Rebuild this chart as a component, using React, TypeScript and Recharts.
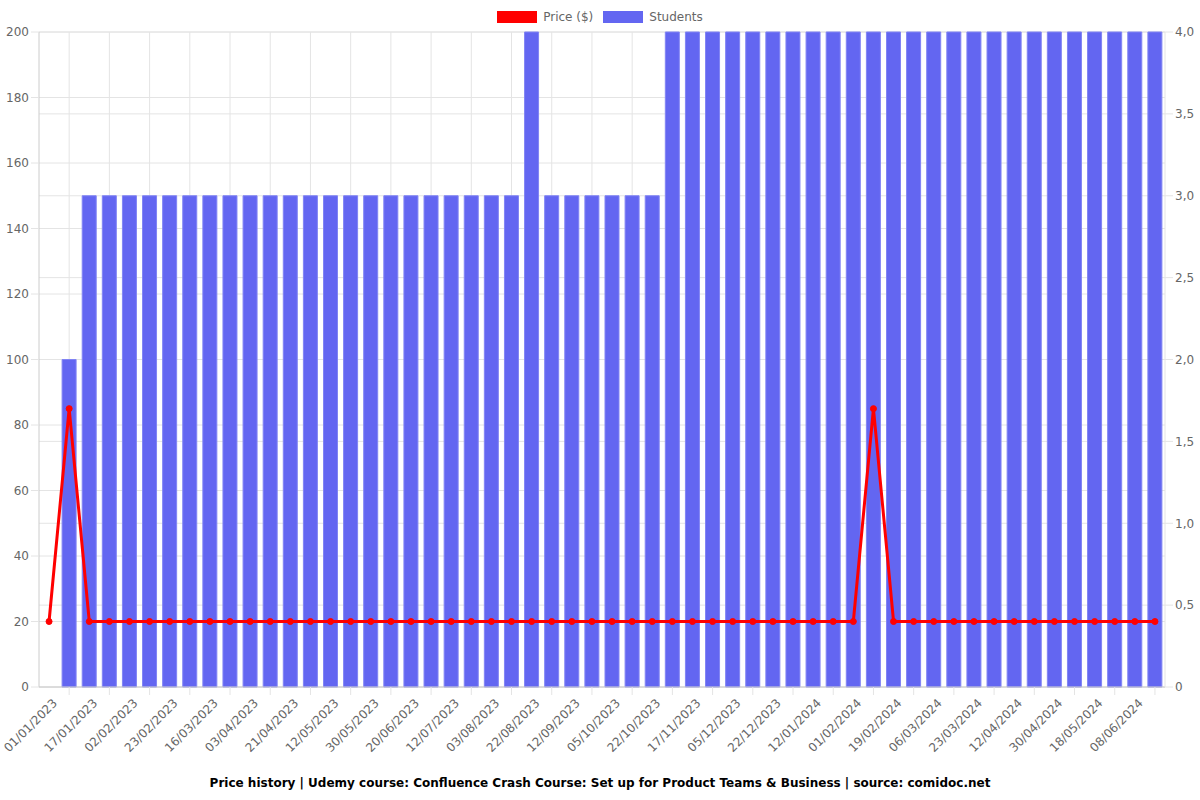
import React from 'react'
import {
  ComposedChart, Bar, Line, XAxis, YAxis, CartesianGrid,
} from 'recharts'

const dates = [
  '01/01/2023', '09/01/2023', '17/01/2023', '25/01/2023', '02/02/2023', '12/02/2023', '23/02/2023', '06/03/2023',
  '16/03/2023', '25/03/2023', '03/04/2023', '12/04/2023', '21/04/2023', '02/05/2023', '12/05/2023', '21/05/2023',
  '30/05/2023', '10/06/2023', '20/06/2023', '01/07/2023', '12/07/2023', '23/07/2023', '03/08/2023', '13/08/2023',
  '22/08/2023', '01/09/2023', '12/09/2023', '24/09/2023', '05/10/2023', '14/10/2023', '22/10/2023', '05/11/2023',
  '17/11/2023', '26/11/2023', '05/12/2023', '14/12/2023', '22/12/2023', '02/01/2024', '12/01/2024', '22/01/2024',
  '01/02/2024', '10/02/2024', '19/02/2024', '27/02/2024', '06/03/2024', '14/03/2024', '23/03/2024', '02/04/2024',
  '12/04/2024', '21/04/2024', '30/04/2024', '09/05/2024', '18/05/2024', '28/05/2024', '08/06/2024', '18/06/2024',
]

const price = [
  20, 85, 20, 20, 20, 20, 20, 20, 20, 20, 20, 20, 20, 20, 20, 20,
  20, 20, 20, 20, 20, 20, 20, 20, 20, 20, 20, 20, 20, 20, 20, 20,
  20, 20, 20, 20, 20, 20, 20, 20, 20, 85, 20, 20, 20, 20, 20, 20,
  20, 20, 20, 20, 20, 20, 20, 20,
]

const students = [
  null, 2, 3, 3, 3, 3, 3, 3, 3, 3, 3, 3, 3, 3, 3, 3,
  3, 3, 3, 3, 3, 3, 3, 3, 4, 3, 3, 3, 3, 3, 3, 4,
  4, 4, 4, 4, 4, 4, 4, 4, 4, 4, 4, 4, 4, 4, 4, 4,
  4, 4, 4, 4, 4, 4, 4, 4,
]

const priceTicks = [0, 20, 40, 60, 80, 100, 120, 140, 160, 180, 200]
const studentTicks = [0, 0.5, 1, 1.5, 2, 2.5, 3, 3.5, 4]

const data = dates.map((date, i) => ({ date, price: price[i], students: students[i] }))

const W = 1200
const H = 800
const M = { top: 32, right: 0, bottom: 33, left: 0 }
const LEFT_W = 39
const RIGHT_W = 35
const PLOT_W = W - LEFT_W - RIGHT_W
const STEP = PLOT_W / dates.length

const FONT = '"DejaVu Sans", sans-serif'
const GRID = '#e4e4e4'
const BAR = '#6366f1'

const DateTick = (props: any) => {
  const { x, y, payload } = props
  return (
    <g>
      {/* chart.js puts the tick marks between the labels */}
      <line x1={x + STEP} x2={x + STEP} y1={y - 8} y2={y} stroke={GRID} />
      <g transform={`translate(${x + 6},${y + 6})`}>
        <text transform="rotate(-45)" textAnchor="end" dy={4} fontSize={12} fill="#666" fontFamily={FONT}>
          {payload.value}
        </text>
      </g>
    </g>
  )
}

const fmtStudents = (v: number) => (v === 0 ? '0' : v.toFixed(1).replace('.', ','))

const LegendBox = ({ color, label }: { color: string; label: string }) => (
  <span style={{ display: 'inline-flex', alignItems: 'center', margin: '0 5px' }}>
    <span style={{ display: 'inline-block', width: 40, height: 12, background: color, marginRight: 6 }} />
    <span>{label}</span>
  </span>
)

export default function App() {
  return (
    <div style={{ position: 'absolute', left: 0, top: 0, width: W, height: H, background: '#fff', fontFamily: FONT }}>
      <div style={{ position: 'absolute', top: 10, left: 0, width: W, textAlign: 'center', fontSize: 12, color: '#666' }}>
        <LegendBox color="#ff0000" label="Price ($)" />
        <LegendBox color={BAR} label="Students" />
      </div>
      <ComposedChart width={W} height={H} data={data} margin={M}>
        <CartesianGrid
          yAxisId="left"
          stroke={GRID}
          verticalCoordinatesGenerator={({ offset }: any) =>
            dates.map((_, i) => i).filter(i => i % 2 === 1).map(i => offset.left + STEP * (i + 0.5))
          }
        />
        <CartesianGrid yAxisId="right" stroke={GRID} vertical={false} />
        <XAxis
          dataKey="date"
          interval={1}
          height={80}
          tick={<DateTick />}
          tickLine={false}
          axisLine={{ stroke: '#ccc' }}
        />
        <YAxis
          yAxisId="left"
          domain={[0, 200]}
          ticks={priceTicks}
          width={LEFT_W}
          tick={{ fontSize: 12, fill: '#666', fontFamily: FONT }}
          tickSize={8}
          tickLine={{ stroke: GRID }}
          axisLine={{ stroke: '#ccc' }}
        />
        <YAxis
          yAxisId="right"
          orientation="right"
          domain={[0, 4]}
          ticks={studentTicks}
          tickFormatter={fmtStudents}
          width={RIGHT_W}
          tick={{ fontSize: 12, fill: '#666', fontFamily: FONT }}
          tickSize={8}
          tickLine={{ stroke: GRID }}
          axisLine={{ stroke: GRID }}
        />
        <Bar yAxisId="right" dataKey="students" fill={BAR} stroke="#8184f4" strokeWidth={1} barSize={14} isAnimationActive={false} />
        <Line
          yAxisId="left"
          dataKey="price"
          type="linear"
          stroke="#ff0000"
          strokeWidth={3}
          dot={{ r: 3, fill: '#ff0000', stroke: '#ff0000', strokeWidth: 1 }}
          isAnimationActive={false}
        />
      </ComposedChart>
      <div style={{ position: 'absolute', top: 776, left: 0, width: W, textAlign: 'center', fontSize: 12, fontWeight: 'bold', color: '#000' }}>
        Price history | Udemy course: Confluence Crash Course: Set up for Product Teams &amp; Business | source: comidoc.net
      </div>
    </div>
  )
}
